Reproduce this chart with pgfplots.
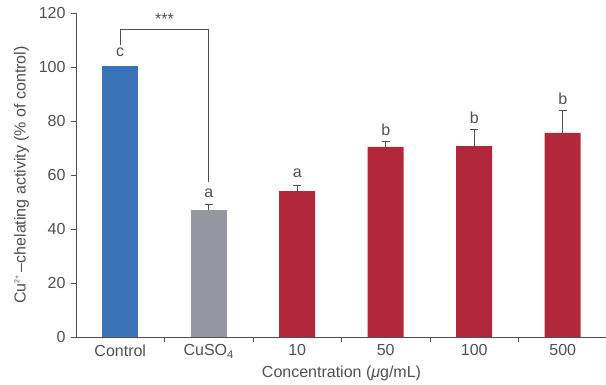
\documentclass[border=0pt]{standalone}
\usepackage{fontspec}
\setmainfont{Liberation Sans}
\usepackage{pgfplots}
\pgfplotsset{compat=1.18}
\definecolor{cblue}{HTML}{3A72B8}
\definecolor{cgray}{HTML}{9797A3}
\definecolor{cred}{HTML}{B0283A}
\definecolor{txt}{HTML}{505050}
\begin{document}
\begin{tikzpicture}
\useasboundingbox (-76pt,-47pt) rectangle (530pt,337pt);
\begin{axis}[
  at={(0,0)}, anchor=south west,
  scale only axis, width=531pt, height=324pt,
  xmin=-0.5, xmax=5.5, ymin=0, ymax=120,
  axis x line*=bottom, axis y line*=left,
  axis line style={draw=txt, line width=0.9pt},
  ytick={0,20,...,120},
  xtick={0.5,1.5,...,5.5}, xticklabels={},
  extra x ticks={0,1,2,3,4,5},
  extra x tick labels={Control,CuSO\textsubscript{4},10,50,100,500},
  extra x tick style={major tick length=0pt},
  tick align=outside, major tick length=5pt,
  tick style={draw=txt, line width=0.9pt},
  /pgf/number format/assume math mode=true,
  tick label style={font=\fontsize{16}{19}\selectfont, text=txt},
  yticklabel style={xshift=-2pt},
  xticklabel style={yshift=-4pt},
  label style={font=\fontsize{16}{19}\selectfont, text=txt},
  xlabel={Concentration (\textit{μ}g/mL)},
  xlabel style={yshift=4pt},
  ylabel={Cu\textsuperscript{\scriptsize 2+}\,–chelating activity (\% of control)},
  ylabel style={yshift=3pt},
  ybar, bar width=36pt, bar shift=0pt,
  clip=false,
  error bars/y dir=plus, error bars/y explicit,
  error bars/error bar style={draw=txt, line width=0.9pt},
  error bars/error mark options={rotate=90, mark size=4pt, draw=txt, line width=0.9pt},
]
\addplot[fill=cblue, draw=none] coordinates {(0,100.5)};
\addplot[fill=cgray, draw=none] coordinates {(1,47) +- (0,2)};
\addplot[fill=cred, draw=none] coordinates {(2,54) +- (0,2) (3,70.4) +- (0,2.1) (4,70.7) +- (0,6.2) (5,75.6) +- (0,8.2)};
\node[text=txt, font=\fontsize{16}{19}\selectfont] at (axis cs:0,105.5) {c};
\node[text=txt, font=\fontsize{16}{19}\selectfont] at (axis cs:1,53.3) {a};
\node[text=txt, font=\fontsize{16}{19}\selectfont] at (axis cs:2,60.7) {a};
\node[text=txt, font=\fontsize{16}{19}\selectfont] at (axis cs:3,76.7) {b};
\node[text=txt, font=\fontsize{16}{19}\selectfont] at (axis cs:4,81.2) {b};
\node[text=txt, font=\fontsize{16}{19}\selectfont] at (axis cs:5,88.2) {b};
\draw[txt, line width=0.9pt] (axis cs:0,108) -- (axis cs:0,114) -- (axis cs:1,114) -- (axis cs:1,57.5);
\node[text=txt, font=\fontsize{16}{19}\selectfont] at (axis cs:0.5,117.8) {***};
\end{axis}
\end{tikzpicture}
\end{document}
